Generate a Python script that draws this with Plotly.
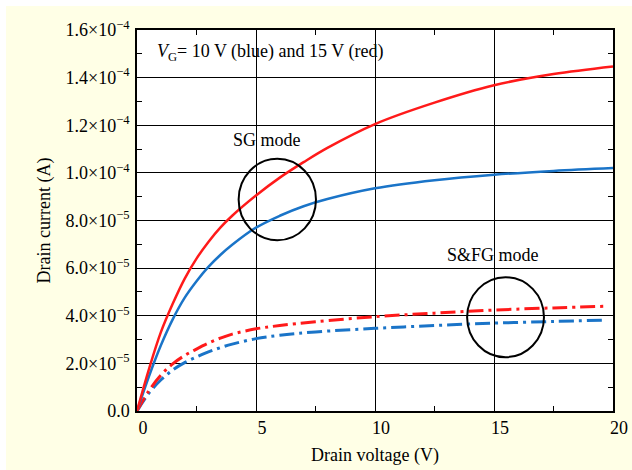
import plotly.graph_objects as go

# ---- data (current in A, voltage in V) ----
sg_vg15_v = [0, 0.5, 1.0, 1.5, 2.0, 2.5, 3.0, 3.5, 4.0, 5.0, 6.0, 7.0, 8.0, 10.0, 12.5, 15.0, 17.5, 20.0]
sg_vg15_i = [0, 17.5e-6, 33e-6, 45e-6, 55.5e-6, 64e-6, 71e-6, 77e-6, 82e-6, 90.5e-6, 98e-6,
             104.5e-6, 110.5e-6, 120.5e-6, 129.5e-6, 136.8e-6, 141.5e-6, 144.7e-6]

sg_vg10_v = [0, 0.5, 1.0, 1.5, 2.0, 2.5, 3.0, 3.5, 4.0, 5.0, 6.0, 7.0, 8.0, 10.0, 12.5, 15.0, 17.5, 20.0]
sg_vg10_i = [0, 14.5e-6, 27.5e-6, 38.5e-6, 47.5e-6, 54.5e-6, 60.5e-6, 65.5e-6, 69.8e-6, 77e-6,
             82e-6, 86e-6, 89e-6, 93.5e-6, 96.9e-6, 99.2e-6, 100.8e-6, 102e-6]

sfg_vg15_v = [0, 0.5, 1.0, 1.5, 2.0, 2.5, 3.0, 3.5, 4.0, 5.0, 6.0, 7.5, 10.0, 12.5, 15.0, 17.5, 19.7]
sfg_vg15_i = [0, 8.5e-6, 15e-6, 19.8e-6, 23.3e-6, 26e-6, 28.5e-6, 30.6e-6, 32.3e-6, 34.5e-6,
              35.9e-6, 37.5e-6, 39.6e-6, 41.1e-6, 42.4e-6, 43.3e-6, 44e-6]

sfg_vg10_v = [0, 0.5, 1.0, 1.5, 2.0, 2.5, 3.0, 3.5, 4.0, 5.0, 6.0, 7.5, 10.0, 12.5, 15.0, 17.5, 19.7]
sfg_vg10_i = [0, 7.5e-6, 13e-6, 17.2e-6, 20.3e-6, 22.7e-6, 24.8e-6, 26.6e-6, 28.1e-6, 30.4e-6,
              31.8e-6, 33.2e-6, 34.7e-6, 35.9e-6, 36.9e-6, 37.6e-6, 38.2e-6]

x_ticks = [0, 5, 10, 15, 20]
y_tickvals = [0, 2e-5, 4e-5, 6e-5, 8e-5, 1.0e-4, 1.2e-4, 1.4e-4, 1.6e-4]
y_ticktext = ["0.0", "2.0×10<sup>−5</sup>", "4.0×10<sup>−5</sup>", "6.0×10<sup>−5</sup>",
              "8.0×10<sup>−5</sup>", "1.0×10<sup>−4</sup>", "1.2×10<sup>−4</sup>",
              "1.4×10<sup>−4</sup>", "1.6×10<sup>−4</sup>"]

RED = "#ff1a1a"
BLUE = "#1a74c8"
BG = "#ffffe6"
FONT = "Liberation Serif"
FS = 18

fig = go.Figure()
DASH = "15px,5px,3px,5px"
fig.add_trace(go.Scatter(x=sfg_vg10_v, y=sfg_vg10_i, mode="lines",
                         line=dict(color=BLUE, width=3, dash=DASH, shape="spline")))
fig.add_trace(go.Scatter(x=sfg_vg15_v, y=sfg_vg15_i, mode="lines",
                         line=dict(color=RED, width=3, dash=DASH, shape="spline")))
fig.add_trace(go.Scatter(x=sg_vg10_v, y=sg_vg10_i, mode="lines",
                         line=dict(color=BLUE, width=2.5, shape="spline")))
fig.add_trace(go.Scatter(x=sg_vg15_v, y=sg_vg15_i, mode="lines",
                         line=dict(color=RED, width=2.5, shape="spline")))

axis_common = dict(
    showline=True, linecolor="black", linewidth=1.5, mirror="allticks",
    showgrid=True, gridcolor="black", gridwidth=1.4,
    ticks="inside", ticklen=6, tickcolor="black", tickwidth=1.3,
    zeroline=False, automargin=False,
    tickfont=dict(family=FONT, size=FS, color="black"),
)

fig.update_xaxes(
    range=[0, 20], tickvals=x_ticks, ticktext=[str(v) for v in x_ticks],
    minor=dict(ticks="inside", ticklen=5, tickcolor="black", tickwidth=1.3, dtick=2.5, showgrid=False),
    title=dict(text="Drain voltage (V)", font=dict(family=FONT, size=FS, color="black"), standoff=11),
    ticklabelstandoff=0, ticklabelshift=6,
    **axis_common,
)
fig.update_yaxes(
    range=[0, 1.6e-4], tickvals=y_tickvals, ticktext=y_ticktext,
    minor=dict(ticks="inside", ticklen=5, tickcolor="black", tickwidth=1.3, dtick=1e-5, showgrid=False),
    title=dict(text="Drain current (A)", font=dict(family=FONT, size=FS, color="black"), standoff=10),
    ticklabelstandoff=2,
    **axis_common,
)

# annotation circles
fig.add_shape(type="circle", xref="x", yref="y", x0=4.27, x1=7.52, y0=71.7e-6, y1=105.9e-6,
              line=dict(color="black", width=2))
fig.add_shape(type="circle", xref="x", yref="y", x0=13.87, x1=17.1, y0=22.6e-6, y1=56.2e-6,
              line=dict(color="black", width=2))

# thin white border along top and left edges (paper coords; plot area is 476x381 px)
fig.add_shape(type="rect", xref="paper", yref="paper", x0=-0.3, x1=1.05, y0=1.063, y1=1.09,
              line=dict(width=0), fillcolor="white")
fig.add_shape(type="rect", xref="paper", yref="paper", x0=-0.3, x1=-0.2752, y0=-0.17, y1=1.09,
              line=dict(width=0), fillcolor="white")

fig.add_annotation(x=0.756, y=150.6e-6, xref="x", yref="y", xanchor="left", yanchor="middle",
                   text="<i>V</i><sub>G</sub>= 10 V (blue) and 15 V (red)", showarrow=False,
                   font=dict(family=FONT, size=FS, color="black"))
fig.add_annotation(x=5.46, y=113.6e-6, xref="x", yref="y", text="SG mode", showarrow=False,
                   font=dict(family=FONT, size=FS, color="black"))
fig.add_annotation(x=14.94, y=65.4e-6, xref="x", yref="y", text="S&amp;FG mode", showarrow=False,
                   font=dict(family=FONT, size=FS, color="black"))

fig.update_layout(
    width=632, height=470,
    margin=dict(l=137, r=19, t=30, b=59),
    paper_bgcolor=BG, plot_bgcolor="white",
    showlegend=False,
    font=dict(family=FONT, size=FS, color="black"),
)

fig.write_html(
    "out.html",
    config={"displayModeBar": False},
    post_script="document.documentElement.style.overflow='hidden';"
                "document.body.style.overflow='hidden';document.body.style.margin='0';",
)
